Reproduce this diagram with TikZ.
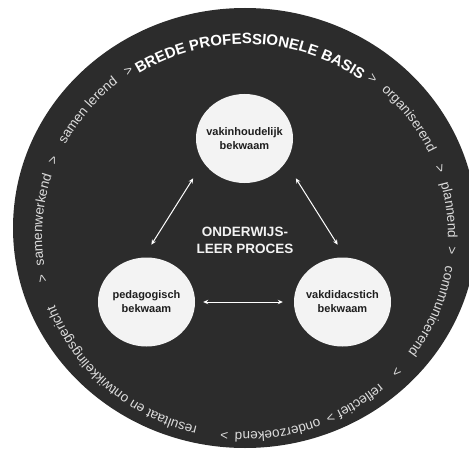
\documentclass[tikz,border=0pt]{standalone}
\usepackage{fontspec}
\setmainfont{Liberation Sans}
\usetikzlibrary{calc,positioning,shapes.geometric,arrows.meta,decorations.text}

\definecolor{discgray}{HTML}{2C2C2C}
\definecolor{ballwhite}{HTML}{F3F3F3}
\definecolor{ringgray}{HTML}{DCDCDC}
\definecolor{inkblack}{HTML}{1E1E1E}

\newcommand{\ringfont}{\fontsize{13.5}{16}\selectfont}
\newcommand{\ringbold}{\fontsize{15}{17}\selectfont\bfseries}

%one word of the outer ring, centred on an angle
\newcommand{\ringword}[2]{%
	\path[decorate, decoration={text along path, text align=center, text color=ringgray, text={|\ringfont|#2}}]
		($(ring)+({#1+40}:203pt and 196pt)$) arc[start angle={#1+40}, end angle={#1-40}, x radius=203pt, y radius=196pt];}

\tikzset{
	ball/.style={ellipse, fill=ballwhite, minimum width=97pt, minimum height=89pt, inner sep=0pt},
	balltext/.style={font=\fontsize{11}{14}\selectfont\bfseries, text=inkblack, align=center},
	twoway/.style={{Stealth[length=5pt,width=4.5pt]}-{Stealth[length=5pt,width=4.5pt]}, draw=white, line width=1pt},
}

\begin{document}
\begin{tikzpicture}[x=1pt,y=1pt]

	\useasboundingbox (0,0) rectangle (469,459);
	\clip (0,0) rectangle (469,459);
	\fill[white] (0,0) rectangle (469,459);

	%disc
	\coordinate (centre) at (245,231);
	\coordinate (ring) at (245,223);
	\fill[discgray] (centre) ellipse [x radius=232pt, y radius=220pt];

	%balls
	\node[ball, label={[balltext]center:vakinhoudelijk\\bekwaam}] (vak) at (244.5,320.5) {};
	\node[ball, label={[balltext]center:pedagogisch\\bekwaam}] (ped) at (146.5,157) {};
	\node[ball, label={[balltext]center:vakdidacstich\\bekwaam}] (did) at (342.5,157) {};

	\node[font=\fontsize{13.5}{17}\selectfont\bfseries, text=ballwhite, align=center] (proces) at (245,218.5) {ONDERWIJS-\\LEER PROCES};

	%arrows
	\draw[twoway, shorten <=15pt, shorten >=19pt] (ped.94) -- (vak.210);
	\draw[twoway, shorten <=19pt, shorten >=15pt] (vak.330) -- (did.86);
	\draw[twoway, shorten <=8pt, shorten >=11pt] (ped.east) -- (did.west);

	%ring text
	\ringfont
	\path[decorate, decoration={text along path, text align=center, text color=white, text={|\ringbold|BREDE PROFESSIONELE BASIS}}]
		($(ring)+(128.4:199pt and 192pt)$) arc[start angle=128.4, end angle=48.4, x radius=199pt, y radius=192pt];
	\ringword{51.5}{>}
	\ringword{36.1}{organiserend}
	\ringword{19.4}{>}
	\ringword{7.3}{plannend}
	\ringword{-4.1}{>}
	\ringword{-22.4}{communicerend}
	\ringword{-42.6}{>}
	\ringword{-55.6}{reflectief}
	\ringword{-65.3}{>}
	\ringword{-80.6}{onderzoekend}
	\ringword{-95.8}{>}
	\ringword{228.3}{resultaat en ontwikkelingsgericht}
	\ringword{192}{>}
	\ringword{175.4}{samenwerkend}
	\ringword{158}{>}
	\ringword{140.8}{samen lerend}
	\ringword{124.6}{>}

\end{tikzpicture}
\end{document}
